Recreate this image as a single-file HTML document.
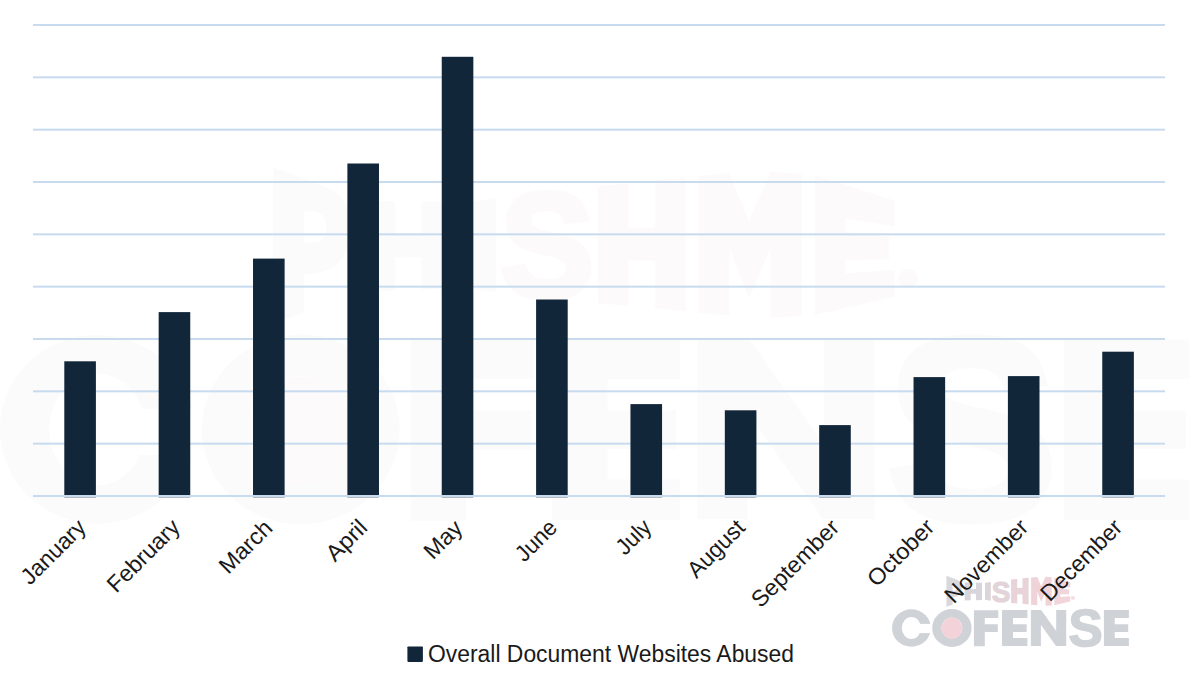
<!DOCTYPE html>
<html><head><meta charset="utf-8">
<style>
html,body{margin:0;padding:0;background:#fff;width:1189px;height:691px;overflow:hidden}
svg{display:block}
text{font-family:"Liberation Sans",sans-serif}
</style></head>
<body>
<svg width="1189" height="691" viewBox="0 0 1189 691">
<rect width="1189" height="691" fill="#fff"/>
<g id="wm" transform="translate(-0.5,429.1) scale(5.02) translate(-891.9,-627.95)">
<path fill="#fbfbfb" fill-rule="evenodd" d="M892.00,628.00 a19.40,18.80 0 1,0 38.80,0 a19.40,18.80 0 1,0 -38.80,0 Z M901.80,628.00 a9.60,11.10 0 1,0 19.20,0 a9.60,11.10 0 1,0 -19.20,0 Z"/>
<rect x="916.40" y="623.9" width="16" height="9.2" fill="#fff"/>
<path fill="#fbfbfb" fill-rule="evenodd" d="M932.20,628.00 a19.70,18.90 0 1,0 39.40,0 a19.70,18.90 0 1,0 -39.40,0 Z M941.40,628.00 a10.50,10.60 0 1,0 21.00,0 a10.50,10.60 0 1,0 -21.00,0 Z"/>
<ellipse cx="951.90" cy="628.20" rx="10.50" ry="10.70" fill="#fdfafb"/>
<path fill="#fbfbfb" d="M973.9,610.2 H998.3 V617.9 H984.8 V624.2 H997.8 V632.0 H984.8 V646.2 H973.9 Z"/>
<path fill="#fbfbfb" d="M1002.00,610.1 H1027.40 V618 H1013.00 V624.2 H1026.70 V631.9 H1013.00 V638 H1027.40 V646 H1002.00 Z"/>
<path fill="#fbfbfb" d="M1030.9,645.9 V610 H1041.2 L1056.2,631 V610 H1066.2 V645.9 H1056 L1040.9,624.8 V645.9 Z"/>
<text x="0" y="0" font-family="Liberation Sans" font-weight="bold" font-size="100" fill="#fbfbfb" stroke="#fbfbfb" stroke-width="3" transform="translate(1068.5,645.7) scale(0.513,0.514)">S</text>
<path fill="#fbfbfb" d="M1103.90,610.1 H1128.90 V618 H1114.70 V624.2 H1128.20 V631.9 H1114.70 V638 H1128.90 V646 H1103.90 Z"/>
<path fill="#fbfbfb" fill-rule="evenodd" d="M946.4,575.8 L956.5,579.5 Q961.8,581.6 961.8,587.6 Q961.8,596.8 953.2,597.1 L952.6,597.1 L952.6,604.7 L946.4,606.8 Z M952.6,584.6 L954.4,584.6 Q957,584.8 957,587.7 Q957,590.8 954.4,590.8 L952.6,590.8 Z"/>
<path fill="#fbfbfb" d="M964.70,582.50 L970.75,582.56 L970.75,589.15 L975.95,589.10 L975.95,582.61 L982.00,582.67 L982.00,599.92 L975.95,600.16 L975.95,593.66 L970.75,593.77 L970.75,600.36 L964.70,600.60 Z"/>
<path fill="#fbfbfb" d="M985.00,582.70 L990.80,581.97 L990.80,600.65 L985.00,599.80 Z"/>
<text x="0" y="0" font-family="Liberation Sans" font-weight="bold" font-size="50" fill="#fdfafb" stroke="#fdfafb" stroke-width="2" transform="translate(992.5,602.06) scale(0.5593,0.5926) translate(-1.5,-0.6)">S</text>
<path fill="#fdfafb" d="M1011.10,579.58 L1017.23,578.91 L1017.23,587.96 L1022.47,587.79 L1022.47,578.36 L1028.60,577.78 L1028.60,604.46 L1022.47,603.85 L1022.47,594.42 L1017.23,594.32 L1017.23,603.38 L1011.10,602.89 Z"/>
<path fill="#fdfafb" d="M1031.10,577.54 L1037.28,576.95 L1041.19,586.49 L1045.52,576.73 L1051.70,577.15 L1051.70,605.40 L1045.52,605.65 L1045.52,591.77 L1041.19,601.93 L1037.28,591.71 L1037.28,605.33 L1031.10,604.71 Z"/>
<path fill="#fdfafb" d="M1054.30,577.40 L1070.20,582.40 L1070.20,587.58 L1060.34,585.94 L1060.34,588.64 L1069.09,589.60 L1069.09,594.13 L1060.34,594.27 L1060.34,596.97 L1070.20,596.22 L1070.20,601.60 L1054.30,605.23 Z"/>
<circle cx="1072.9" cy="597.9" r="1.9" fill="#fdfafb"/>
</g>
<g id="logo">
<path fill="#cfd2d7" fill-rule="evenodd" d="M892.00,628.00 a19.40,18.80 0 1,0 38.80,0 a19.40,18.80 0 1,0 -38.80,0 Z M901.80,628.00 a9.60,11.10 0 1,0 19.20,0 a9.60,11.10 0 1,0 -19.20,0 Z"/>
<rect x="916.40" y="623.9" width="16" height="9.2" fill="#fff"/>
<path fill="#cfd2d7" fill-rule="evenodd" d="M932.20,628.00 a19.70,18.90 0 1,0 39.40,0 a19.70,18.90 0 1,0 -39.40,0 Z M941.40,628.00 a10.50,10.60 0 1,0 21.00,0 a10.50,10.60 0 1,0 -21.00,0 Z"/>
<ellipse cx="951.90" cy="628.20" rx="10.50" ry="10.70" fill="#f3d3d9"/>
<path fill="#cfd2d7" d="M973.9,610.2 H998.3 V617.9 H984.8 V624.2 H997.8 V632.0 H984.8 V646.2 H973.9 Z"/>
<path fill="#cfd2d7" d="M1002.00,610.1 H1027.40 V618 H1013.00 V624.2 H1026.70 V631.9 H1013.00 V638 H1027.40 V646 H1002.00 Z"/>
<path fill="#cfd2d7" d="M1030.9,645.9 V610 H1041.2 L1056.2,631 V610 H1066.2 V645.9 H1056 L1040.9,624.8 V645.9 Z"/>
<text x="0" y="0" font-family="Liberation Sans" font-weight="bold" font-size="100" fill="#cfd2d7" stroke="#cfd2d7" stroke-width="3" transform="translate(1068.5,645.7) scale(0.513,0.514)">S</text>
<path fill="#cfd2d7" d="M1103.90,610.1 H1128.90 V618 H1114.70 V624.2 H1128.20 V631.9 H1114.70 V638 H1128.90 V646 H1103.90 Z"/>
<path fill="#d9d9dd" fill-rule="evenodd" d="M946.4,575.8 L956.5,579.5 Q961.8,581.6 961.8,587.6 Q961.8,596.8 953.2,597.1 L952.6,597.1 L952.6,604.7 L946.4,606.8 Z M952.6,584.6 L954.4,584.6 Q957,584.8 957,587.7 Q957,590.8 954.4,590.8 L952.6,590.8 Z"/>
<path fill="#d8d6db" d="M964.70,582.50 L970.75,582.56 L970.75,589.15 L975.95,589.10 L975.95,582.61 L982.00,582.67 L982.00,599.92 L975.95,600.16 L975.95,593.66 L970.75,593.77 L970.75,600.36 L964.70,600.60 Z"/>
<path fill="#dcd4d9" d="M985.00,582.70 L990.80,581.97 L990.80,600.65 L985.00,599.80 Z"/>
<text x="0" y="0" font-family="Liberation Sans" font-weight="bold" font-size="50" fill="#e2d4d9" stroke="#e2d4d9" stroke-width="2" transform="translate(992.5,602.06) scale(0.5593,0.5926) translate(-1.5,-0.6)">S</text>
<path fill="#e8d3d8" d="M1011.10,579.58 L1017.23,578.91 L1017.23,587.96 L1022.47,587.79 L1022.47,578.36 L1028.60,577.78 L1028.60,604.46 L1022.47,603.85 L1022.47,594.42 L1017.23,594.32 L1017.23,603.38 L1011.10,602.89 Z"/>
<path fill="#efd3d9" d="M1031.10,577.54 L1037.28,576.95 L1041.19,586.49 L1045.52,576.73 L1051.70,577.15 L1051.70,605.40 L1045.52,605.65 L1045.52,591.77 L1041.19,601.93 L1037.28,591.71 L1037.28,605.33 L1031.10,604.71 Z"/>
<path fill="#f2d5da" d="M1054.30,577.40 L1070.20,582.40 L1070.20,587.58 L1060.34,585.94 L1060.34,588.64 L1069.09,589.60 L1069.09,594.13 L1060.34,594.27 L1060.34,596.97 L1070.20,596.22 L1070.20,601.60 L1054.30,605.23 Z"/>
<circle cx="1072.9" cy="597.9" r="1.9" fill="#f5dbe0"/>
</g>
<g fill="#c8dbee">
<rect x="33.00" y="24.00" width="1132.00" height="2.00"/>
<rect x="33.00" y="76.33" width="1132.00" height="2.00"/>
<rect x="33.00" y="128.67" width="1132.00" height="2.00"/>
<rect x="33.00" y="181.00" width="1132.00" height="2.00"/>
<rect x="33.00" y="233.33" width="1132.00" height="2.00"/>
<rect x="33.00" y="285.66" width="1132.00" height="2.00"/>
<rect x="33.00" y="338.00" width="1132.00" height="2.00"/>
<rect x="33.00" y="390.33" width="1132.00" height="2.00"/>
<rect x="33.00" y="442.66" width="1132.00" height="2.00"/>
<rect x="33.00" y="495.00" width="1132.00" height="2.00"/>
</g>
<g fill="#12263a">
<rect x="64.30" y="361.30" width="31.60" height="136.00"/>
<rect x="158.66" y="312.10" width="31.60" height="185.20"/>
<rect x="253.02" y="258.60" width="31.60" height="238.70"/>
<rect x="347.38" y="163.50" width="31.60" height="333.80"/>
<rect x="441.74" y="56.80" width="31.60" height="440.50"/>
<rect x="536.10" y="299.50" width="31.60" height="197.80"/>
<rect x="630.46" y="404.10" width="31.60" height="93.20"/>
<rect x="724.82" y="410.30" width="31.60" height="87.00"/>
<rect x="819.18" y="425.10" width="31.60" height="72.20"/>
<rect x="913.54" y="377.10" width="31.60" height="120.20"/>
<rect x="1007.90" y="376.10" width="31.60" height="121.20"/>
<rect x="1102.26" y="351.70" width="31.60" height="145.60"/>
</g>
<rect x="33.00" y="495.00" width="1132.00" height="2.00" fill="#c8dbee"/>
<g font-size="23.00" fill="#1a1a1a">
<text x="87.25" y="528.70" text-anchor="end" transform="rotate(-45 87.25 528.70)" textLength="80.91" lengthAdjust="spacingAndGlyphs">January</text>
<text x="181.41" y="528.60" text-anchor="end" transform="rotate(-45 181.41 528.60)" textLength="91.98" lengthAdjust="spacingAndGlyphs">February</text>
<text x="273.87" y="529.40" text-anchor="end" transform="rotate(-45 273.87 529.40)" textLength="64.40" lengthAdjust="spacingAndGlyphs">March</text>
<text x="368.78" y="528.95" text-anchor="end" transform="rotate(-45 368.78 528.95)" textLength="47.78" lengthAdjust="spacingAndGlyphs">April</text>
<text x="464.04" y="529.45" text-anchor="end" transform="rotate(-45 464.04 529.45)" textLength="43.95" lengthAdjust="spacingAndGlyphs">May</text>
<text x="558.50" y="528.95" text-anchor="end" transform="rotate(-45 558.50 528.95)" textLength="48.25" lengthAdjust="spacingAndGlyphs">June</text>
<text x="652.71" y="528.65" text-anchor="end" transform="rotate(-45 652.71 528.65)" textLength="39.07" lengthAdjust="spacingAndGlyphs">July</text>
<text x="746.52" y="529.05" text-anchor="end" transform="rotate(-45 746.52 529.05)" textLength="70.83" lengthAdjust="spacingAndGlyphs">August</text>
<text x="840.68" y="528.80" text-anchor="end" transform="rotate(-45 840.68 528.80)" textLength="113.22" lengthAdjust="spacingAndGlyphs">September</text>
<text x="935.94" y="528.50" text-anchor="end" transform="rotate(-45 935.94 528.50)" textLength="84.09" lengthAdjust="spacingAndGlyphs">October</text>
<text x="1029.80" y="528.50" text-anchor="end" transform="rotate(-45 1029.80 528.50)" textLength="107.38" lengthAdjust="spacingAndGlyphs">November</text>
<text x="1123.66" y="528.70" text-anchor="end" transform="rotate(-45 1123.66 528.70)" textLength="104.41" lengthAdjust="spacingAndGlyphs">December</text>
</g>
<rect x="407.40" y="646.40" width="15.50" height="15.50" fill="#12263a" rx="0.8"/>
<text x="428.00" y="662.00" font-size="23.50" fill="#1a1a1a" textLength="366.00" lengthAdjust="spacingAndGlyphs">Overall Document Websites Abused</text>
</svg>
</body></html>
